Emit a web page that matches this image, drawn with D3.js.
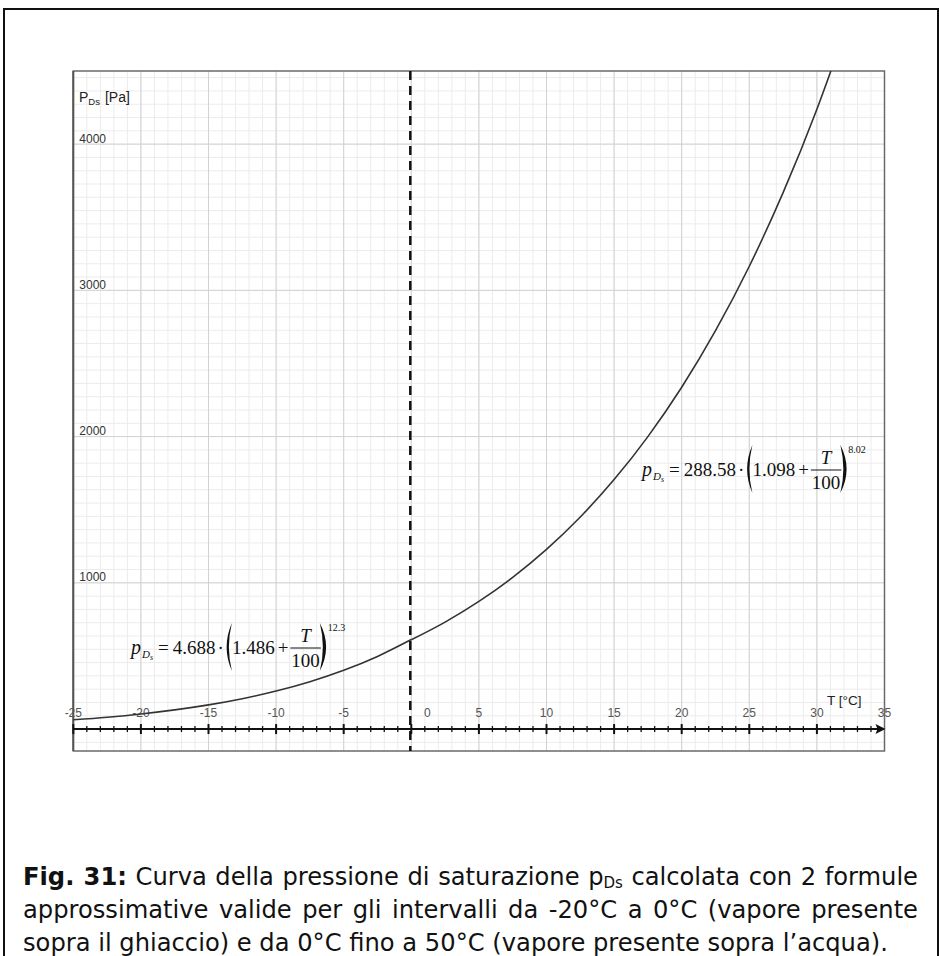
<!DOCTYPE html>
<html>
<head>
<meta charset="utf-8">
<script src="https://cdn.jsdelivr.net/npm/d3@7"></script>
<style>
  body { margin: 0; background: #fff; }
  #wrap { position: relative; width: 940px; height: 956px; overflow: hidden; }
  #wrap svg { position: absolute; left: 0; top: 0; }
  .cap { position: absolute; left: 23px; width: 895px; font-family: "DejaVu Sans", Verdana, sans-serif;
         font-size: 19px; line-height: 34px; color: #111; text-align: justify; white-space: nowrap; }
  .cap.j { text-align-last: justify; }
  .cap sub { font-size: 0.62em; vertical-align: -3px; line-height: 0; }
  .meas { position: absolute; visibility: hidden; white-space: nowrap; font-family: "DejaVu Sans", Verdana, sans-serif; font-size: 19px; }
</style>
</head>
<body>
<div id="wrap"></div>
<script>
// values (Pa)
var tIce = [-25, -22.5, -20, -17.5, -15, -12.5, -10, -7.5, -5, -2.5, 0];
var pIce = [63.5, 81.3, 103.5, 131.1, 165.3, 207.6, 259.7, 323.7, 401.7, 496.8, 612.1];
var tWater = [0, 2.5, 5, 7.5, 10, 12.5, 15, 17.5, 20, 22.5, 25, 27.5, 30, 32.5];
var pWater = [611, 731.6, 873, 1037.6, 1228.8, 1450.3, 1705.9, 1999.9, 2337.4, 2724.1, 3164.9, 3667.9, 4239, 4886];

var xTickLabels = [-25, -20, -15, -10, -5, 0, 5, 10, 15, 20, 25, 30, 35];
var yTickLabels = [1000, 2000, 3000, 4000];

var W = 940, H = 956;
var wrap = d3.select("#wrap");
var svg = wrap.append("svg").attr("width", W).attr("height", H);

// outer box
svg.append("path")
    .attr("d", "M4,960 L4,9 L938,9 L938,960")
    .attr("fill", "none").attr("stroke", "#111").attr("stroke-width", 2);

var x = d3.scaleLinear().domain([-25, 35]).range([73.3, 884.5]);
var y = d3.scaleLinear().domain([-150, 4500]).range([751, 71]);

var plot = svg.append("g");

// grid - minor
var minorX = d3.range(-25, 36, 1);
var minorY = d3.range(-1, 50).map(function (k) { return k * 1000 / 11; });
plot.append("g").selectAll("line").data(minorX).enter().append("line")
    .attr("x1", d => x(d)).attr("x2", d => x(d))
    .attr("y1", y.range()[0]).attr("y2", y.range()[1])
    .attr("stroke", "#ececec").attr("stroke-width", 1);
plot.append("g").selectAll("line").data(minorY).enter().append("line")
    .attr("y1", d => y(d)).attr("y2", d => y(d))
    .attr("x1", x.range()[0]).attr("x2", x.range()[1])
    .attr("stroke", "#ececec").attr("stroke-width", 1);

// grid - major
plot.append("g").selectAll("line").data(xTickLabels).enter().append("line")
    .attr("x1", d => x(d)).attr("x2", d => x(d))
    .attr("y1", y.range()[0]).attr("y2", y.range()[1])
    .attr("stroke", "#d2d2d2").attr("stroke-width", 1);
plot.append("g").selectAll("line").data(yTickLabels).enter().append("line")
    .attr("y1", d => y(d)).attr("y2", d => y(d))
    .attr("x1", x.range()[0]).attr("x2", x.range()[1])
    .attr("stroke", "#d2d2d2").attr("stroke-width", 1);

// frame
plot.append("rect")
    .attr("x", x.range()[0]).attr("y", y.range()[1])
    .attr("width", x.range()[1] - x.range()[0]).attr("height", y.range()[0] - y.range()[1])
    .attr("fill", "none").attr("stroke", "#6a6a6a").attr("stroke-width", 1.5);
plot.append("line")
    .attr("x1", x.range()[0]).attr("x2", x.range()[0])
    .attr("y1", y.range()[0]).attr("y2", y.range()[1])
    .attr("stroke", "#555").attr("stroke-width", 2);

// x axis with ticks and arrow
var axisY = y(0);
var axisG = plot.append("g");
axisG.append("line")
    .attr("x1", x.range()[0]).attr("x2", x.range()[1] - 2)
    .attr("y1", axisY).attr("y2", axisY)
    .attr("stroke", "#111").attr("stroke-width", 2);
axisG.selectAll(".tk").data(minorX.filter(d => d < 35)).enter().append("line")
    .attr("class", "tk")
    .attr("x1", d => x(d)).attr("x2", d => x(d))
    .attr("y1", d => axisY - (d % 5 === 0 ? 5 : 3))
    .attr("y2", d => axisY + (d % 5 === 0 ? 5 : 3))
    .attr("stroke", "#111").attr("stroke-width", d => d % 5 === 0 ? 2 : 1.3);
axisG.append("path")
    .attr("d", "M" + (x.range()[1] + 1) + "," + axisY + " l-10,-5 l2,5 l-2,5 Z")
    .attr("fill", "#111");

// tick labels
plot.append("g").selectAll("text").data(xTickLabels).enter().append("text")
    .attr("x", d => d === 0 ? x(d) + 16 : x(d))
    .attr("y", axisY - 12)
    .attr("text-anchor", "middle")
    .attr("font-family", "Liberation Sans, Arial, sans-serif")
    .attr("font-size", 12).attr("fill", "#555")
    .text(d => d);
plot.append("g").selectAll("text").data(yTickLabels).enter().append("text")
    .attr("x", x.range()[0] + 6)
    .attr("y", d => y(d) - 1.5)
    .attr("font-family", "Liberation Sans, Arial, sans-serif")
    .attr("font-size", 12).attr("fill", "#333")
    .text(d => d);

// axis titles
var yt = plot.append("text").attr("x", 79).attr("y", 102)
    .attr("font-family", "Liberation Sans, Arial, sans-serif").attr("font-size", 14).attr("fill", "#222");
yt.append("tspan").text("P");
yt.append("tspan").attr("font-size", 9.5).attr("dy", 3).text("Ds");
yt.append("tspan").attr("dy", -3).attr("dx", 5).text("[Pa]");
plot.append("text").attr("x", 827).attr("y", 705)
    .attr("font-family", "Liberation Sans, Arial, sans-serif").attr("font-size", 13.5).attr("fill", "#222")
    .text("T [°C]");

// curves
svg.append("clipPath").attr("id", "clip").append("rect")
    .attr("x", x.range()[0]).attr("y", y.range()[1])
    .attr("width", x.range()[1] - x.range()[0]).attr("height", y.range()[0] - y.range()[1]);
var line = d3.line().x(d => x(d[0])).y(d => y(d[1])).curve(d3.curveMonotoneX);
var curves = plot.append("g").attr("clip-path", "url(#clip)");
curves.append("path").datum(d3.zip(tIce, pIce))
    .attr("d", line).attr("fill", "none").attr("stroke", "#333").attr("stroke-width", 1.6);
curves.append("path").datum(d3.zip(tWater, pWater))
    .attr("d", line).attr("fill", "none").attr("stroke", "#333").attr("stroke-width", 1.6);

// dashed line at 0 degC
plot.append("line")
    .attr("x1", x(0) - 1).attr("x2", x(0) - 1)
    .attr("y1", y.range()[1]).attr("y2", y.range()[0])
    .attr("stroke", "#111").attr("stroke-width", 2.5).attr("stroke-dasharray", "9,6");

// formulas
function formula(x0, base, coef, inner, expo) {
    var g = svg.append("g").attr("font-family", "Liberation Serif, Times New Roman, serif").attr("fill", "#111");
    var cx = x0;
    function put(txt, size, dy, italic, gap) {
        var t = g.append("text").attr("x", cx).attr("y", base + dy)
            .attr("font-size", size).attr("font-style", italic ? "italic" : null).text(txt);
        var w = t.node().getComputedTextLength();
        cx += w + gap;
        return t;
    }
    function paren(open) {
        var top = base - 31, bot = base + 17, mid = (top + bot) / 2, a = open ? 7 : -1, b = open ? -3.5 : 11.5, c = open ? 1 : 5;
        g.append("path")
            .attr("d", "M" + (cx + a) + "," + top + " Q" + (cx + b) + "," + mid + " " + (cx + a) + "," + bot +
                       " Q" + (cx + c) + "," + mid + " " + (cx + a) + "," + top + " Z")
            .attr("fill", "#111");
        cx += 7;
    }
    put("p", 20, 0, true, 1);
    put("D", 11, 4, true, 0);
    put("s", 8, 6, true, 5);
    put("=", 19, 0, false, 4);
    put(coef, 19, 0, false, 2);
    put("·", 19, 0, false, 1);
    paren(true);
    put(inner, 19, 0, false, 3);
    put("+", 19, 0, false, 2);
    // fraction
    var num = g.append("text").attr("font-size", 19).attr("text-anchor", "middle").attr("font-style", "italic").text("T");
    var den = g.append("text").attr("font-size", 19).attr("text-anchor", "middle").text("100");
    var fw = den.node().getComputedTextLength() + 2;
    num.attr("x", cx + fw / 2).attr("y", base - 12);
    den.attr("x", cx + fw / 2).attr("y", base + 13);
    g.append("line").attr("x1", cx).attr("x2", cx + fw).attr("y1", base - 6).attr("y2", base - 6)
        .attr("stroke", "#111").attr("stroke-width", 1);
    cx += fw;
    paren(false);
    put(expo, 10, -23, false, 0);
}
formula(131, 654, "4.688", "1.486", "12.3");
formula(642, 476, "288.58", "1.098", "8.02");

// caption
var lines = [
    { mid: 877, cls: "cap j", html: "<b>Fig. 31:</b> Curva della pressione di saturazione p<sub>Ds</sub> calcolata con 2 formule" },
    { mid: 910, cls: "cap j", html: "approssimative valide per gli intervalli da -20°C a 0°C (vapore presente" },
    { mid: 943, cls: "cap", html: "sopra il ghiaccio) e da 0°C fino a 50°C (vapore presente sopra l’acqua)." }
];
// size the caption font so the last (unjustified) line spans like the reference
var meas = wrap.append("span").attr("class", "meas").html(lines[2].html);
var fs = 19 * 865 / meas.node().getBoundingClientRect().width;
meas.remove();
wrap.selectAll("div.cap").data(lines).enter().append("div")
    .attr("class", d => d.cls)
    .style("font-size", fs + "px")
    .style("top", d => (d.mid - 17) + "px")
    .html(d => d.html);
</script>
</body>
</html>
